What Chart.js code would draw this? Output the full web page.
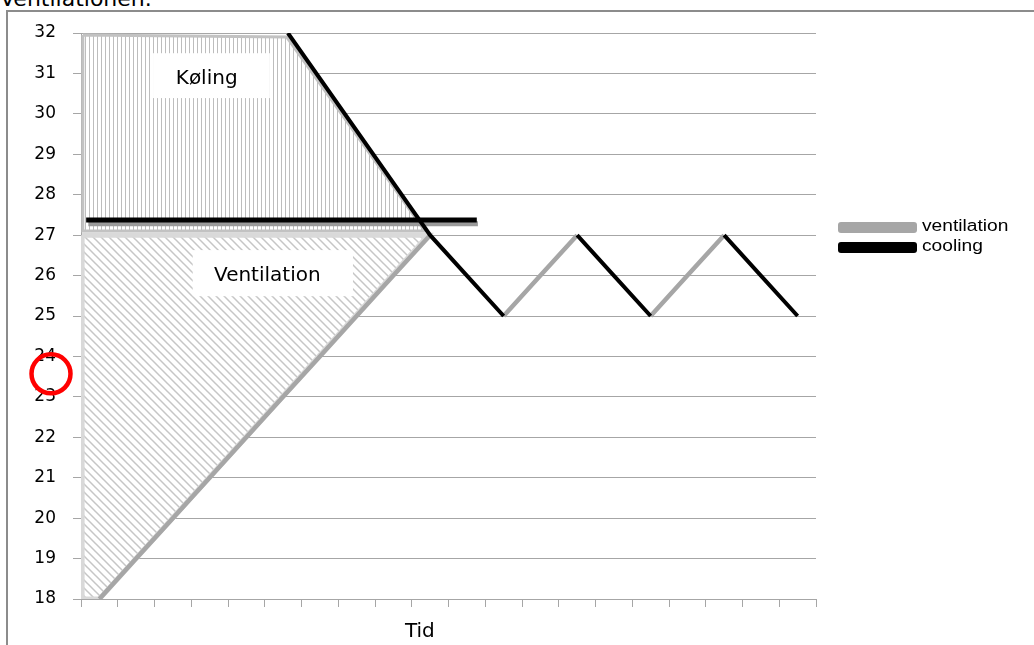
<!DOCTYPE html>
<html>
<head>
<meta charset="utf-8">
<script src="https://cdn.jsdelivr.net/npm/chart.js@4.4.0/dist/chart.umd.min.js"></script>
<style>
  html, body { margin: 0; padding: 0; background: #fff; overflow: hidden; }
  #wrap { position: relative; width: 1034px; height: 645px; overflow: hidden; }
  #caption { position: absolute; left: 0; top: -11px; font: 22px "DejaVu Sans"; line-height: 20px; color: #000; white-space: nowrap; }
  #frame { position: absolute; left: 6px; top: 10px; width: 1100px; height: 700px; border-top: 2px solid #8c8c8c; border-left: 2px solid #8c8c8c; }
  #chart { position: absolute; left: 0; top: 0; }
  #legend { position: absolute; left: 838px; top: 222px; }
  .row { position: relative; height: 20px; }
  .swatch { position: absolute; left: 0; top: 0; width: 79px; height: 11px; border-radius: 3px; }
  .label { position: absolute; left: 84px; top: -6px; font: 16px "Liberation Sans"; line-height: 20px; color: #000;
           transform: scaleX(1.2); transform-origin: left; white-space: nowrap; }
</style>
</head>
<body>
<div id="wrap">
  <div id="caption">Ventilationen.</div>
  <div id="frame"></div>
  <canvas id="chart" width="1034" height="645"></canvas>
  <div id="legend"></div>
</div>
<script>
// time steps (category slots on the x axis)
const categories = [0, 1, 2, 3, 4, 5, 6, 7, 8, 9, 10, 11, 12, 13, 14, 15, 16, 17, 18, 19];
const ventilation = [18, 19, 20, 21, 22, 23, 24, 25, 26, 27, null, 25, 26, 27, null, 25, 26, 27, null, null];
const cooling = [null, null, null, null, null, null, null, null, null, 27, 26, 25, null, 27, 26, 25, null, 27, 26, 25];
// where the drawn cooling line comes in at the top of the plot
const coolingEntry = { x: 5.13, y: 32 };

// drawn shapes on top of the chart, in data units
const kolingArea = [[-0.45, 31.95], [5.1, 31.9], [8.86, 27.1], [-0.45, 27.1]];
const ventArea = [[-0.47, 27], [8.95, 27], [0, 18], [-0.47, 18]];
const coolingBar = [[-0.36, 27.375], [10.27, 27.375]];
const coolingBarShadow = [[-0.3, 27.28], [10.3, 27.28]];

const labelBoxes = [
  { text: "Køling", x0: 1.46, x1: 4.64, y0: 31.5, y1: 30.39, tx: 2.92, ty: 30.73 },
  { text: "Ventilation", x0: 2.54, x1: 6.9, y0: 26.63, y1: 25.49, tx: 4.57, ty: 25.87 }
];

const xEdges = categories.map(c => c - 0.5).concat([categories[categories.length - 1] + 0.5]);

function hatch(size, draw) {
  const c = document.createElement("canvas");
  c.width = size; c.height = size;
  const g = c.getContext("2d");
  g.fillStyle = "#fff";
  g.fillRect(0, 0, size, size);
  draw(g, size);
  return g.createPattern(c, "repeat");
}

const verticalHatch = hatch(4, (g, s) => {
  g.fillStyle = "#bdbdbd";
  g.fillRect(1, 0, 1, s);
});

const diagonalHatch = hatch(8, (g, s) => {
  g.strokeStyle = "#c6c6c6";
  g.lineWidth = 1.5;
  g.beginPath();
  g.moveTo(-1, -1); g.lineTo(s + 1, s + 1);
  g.moveTo(-1, s - 1); g.lineTo(1, s + 1);
  g.moveTo(s - 1, -1); g.lineTo(s + 1, 1);
  g.stroke();
});

const toPts = arr => arr.map(([x, y]) => ({ x, y }));
const closed = arr => toPts(arr.concat([arr[0]]));

const ventPts = ventilation.map((v, i) => ({ x: categories[i], y: v }));
const firstCool = cooling.findIndex(v => v !== null);
const coolPts = [coolingEntry].concat(cooling.map((v, i) => ({ x: categories[i], y: v })).slice(firstCool));

const overlay = {
  id: "overlay",
  afterDatasetsDraw(chart) {
    const { ctx, scales: { x, y } } = chart;
    ctx.save();
    labelBoxes.forEach(b => {
      const l = x.getPixelForValue(b.x0), r = x.getPixelForValue(b.x1);
      const t = y.getPixelForValue(b.y0), bt = y.getPixelForValue(b.y1);
      ctx.fillStyle = "#fff";
      ctx.fillRect(l, t, r - l, bt - t);
      ctx.fillStyle = "#000";
      ctx.font = '20px "DejaVu Sans"';
      ctx.textAlign = "center";
      ctx.textBaseline = "alphabetic";
      ctx.fillText(b.text, x.getPixelForValue(b.tx), y.getPixelForValue(b.ty));
    });
    ctx.restore();
  },
  afterDraw(chart) {
    const { ctx, chartArea, scales: { y } } = chart;
    ctx.save();
    // axis title
    ctx.fillStyle = "#000";
    ctx.font = '20px "DejaVu Sans"';
    ctx.textAlign = "center";
    ctx.fillText("Tid", chartArea.left + 0.461 * (chartArea.right - chartArea.left), chart.height - 8);
    // red marker circle
    ctx.strokeStyle = "#ff0000";
    ctx.lineWidth = 4.5;
    ctx.beginPath();
    ctx.arc(chartArea.left - 30, y.getPixelForValue(23.57), 19.5, 0, Math.PI * 2);
    ctx.stroke();
    ctx.restore();
  }
};

const chart = new Chart(document.getElementById("chart"), {
  type: "line",
  data: {
    datasets: [
      { label: "ventilation", data: ventPts, borderColor: "#a6a6a6", backgroundColor: "#a6a6a6", borderWidth: 4.5, pointRadius: 0, order: 1 },
      { label: "cooling", data: coolPts, borderColor: "#000", backgroundColor: "#000", borderWidth: 4, pointRadius: 0, order: 0 },
      { label: "bar", data: toPts(coolingBar), borderColor: "#000", borderWidth: 5, pointRadius: 0, order: 2 },
      { label: "barShadow", data: toPts(coolingBarShadow), borderColor: "#9a9a9a", borderWidth: 5, pointRadius: 0, order: 3 },
      { label: "kolingArea", data: closed(kolingArea), borderColor: "#c2c2c2", borderWidth: 3, backgroundColor: verticalHatch, fill: "shape", pointRadius: 0, order: 4 },
      { label: "ventArea", data: closed(ventArea), borderColor: "#d9d9d9", borderWidth: 5, backgroundColor: diagonalHatch, fill: "shape", pointRadius: 0, order: 5 }
    ]
  },
  options: {
    responsive: false,
    animation: false,
    layout: { padding: { left: 0, top: 33, right: 218, bottom: 36 } },
    plugins: { legend: { display: false }, tooltip: { enabled: false } },
    scales: {
      x: {
        type: "linear",
        min: xEdges[0],
        max: xEdges[xEdges.length - 1],
        afterBuildTicks: s => { s.ticks = xEdges.map(v => ({ value: v })); },
        ticks: { display: false },
        grid: { drawOnChartArea: false, tickLength: 8, color: "#a6a6a6" },
        border: { color: "#a6a6a6" },
        afterFit: s => { s.height = 10; }
      },
      y: {
        min: 18,
        max: 32,
        ticks: { stepSize: 1, color: "#000", padding: 17, font: { family: "DejaVu Sans", size: 17 } },
        grid: { color: "#a6a6a6", tickLength: 8 },
        border: { color: "#a6a6a6" },
        afterFit: s => { s.width = 81; }
      }
    }
  },
  plugins: [overlay]
});

// legend for the two series
const legend = document.getElementById("legend");
chart.data.datasets.slice(0, 2).forEach(ds => {
  const row = document.createElement("div");
  row.className = "row";
  row.innerHTML = `<div class="swatch" style="background:${ds.borderColor}"></div><div class="label">${ds.label}</div>`;
  legend.appendChild(row);
});
</script>
</body>
</html>
